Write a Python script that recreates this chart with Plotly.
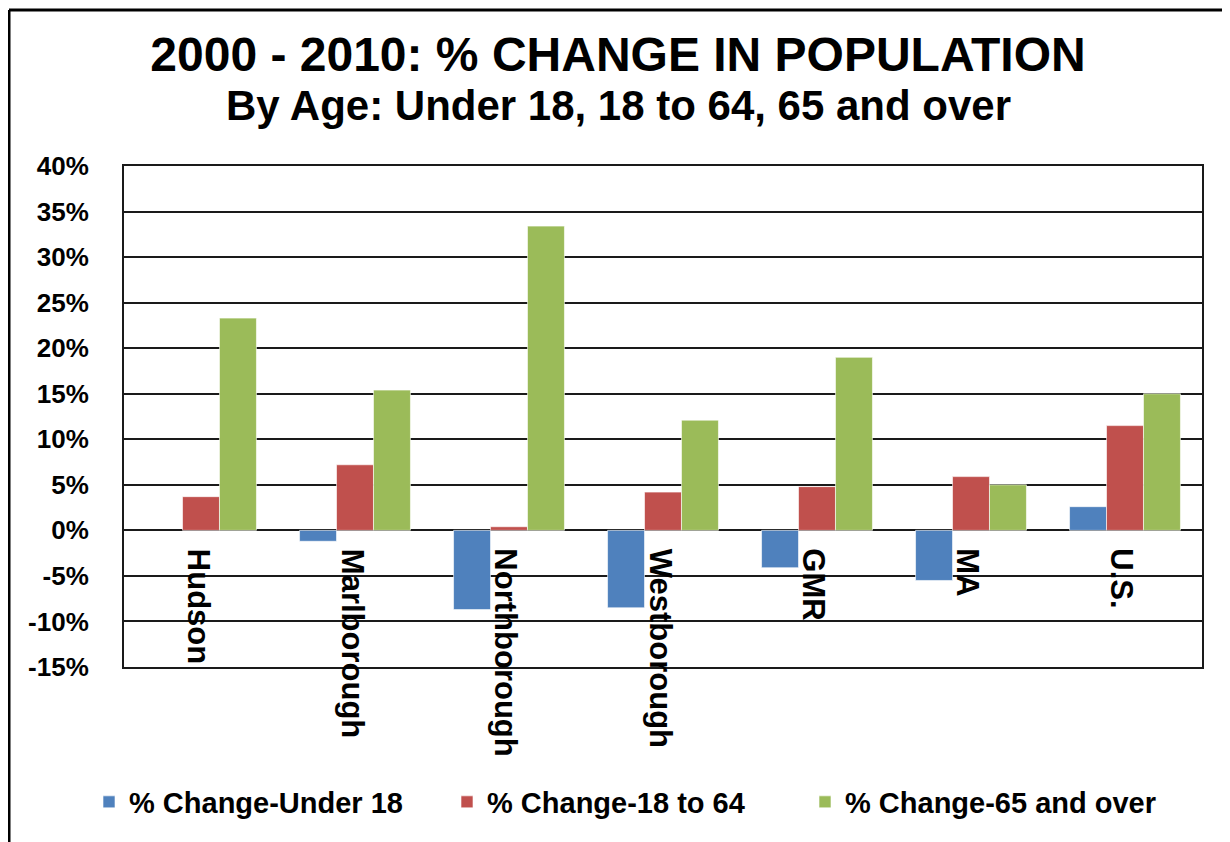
import plotly.graph_objects as go

categories = ["Hudson", "Marlborough", "Northborough", "Westborough", "GMR", "MA", "U.S."]
under18 = [None, -0.012, -0.087, -0.085, -0.041, -0.055, 0.026]
age18_64 = [0.037, 0.072, 0.004, 0.042, 0.048, 0.059, 0.115]
age65_over = [0.233, 0.154, 0.334, 0.121, 0.190, 0.050, 0.150]
series_names = ["% Change-Under 18", "% Change-18 to 64", "% Change-65 and over"]
colors = ["#4F81BD", "#C0504D", "#9BBB59"]
tick_vals = [-0.15, -0.10, -0.05, 0.0, 0.05, 0.10, 0.15, 0.20, 0.25, 0.30, 0.35, 0.40]
tick_text = ["-15%", "-10%", "-5%", "0%", "5%", "10%", "15%", "20%", "25%", "30%", "35%", "40%"]

FONT = "Arial, 'Liberation Sans', sans-serif"

fig = go.Figure()
for name, vals, col in zip(series_names, [under18, age18_64, age65_over], colors):
    fig.add_trace(go.Bar(
        x=categories, y=vals, name=name,
        marker=dict(color=col, line=dict(color="rgba(255,255,255,0.6)", width=1)),
    ))

OFF = 8  # page offset of the plot div
W, H = 1230, 842
L, R, T, B = 116, 36, 158, 183
pw, ph = W - L - R, H - T - B

def px(xp):
    return (xp - OFF - L) / pw

def py(yp):
    return (H - B - (yp - OFF)) / ph

annotations = []
for c in categories:
    annotations.append(dict(
        x=c, y=0, xref="x", yref="y", text=c, showarrow=False,
        textangle=90, xanchor="center", yanchor="top", yshift=-16, xshift=-3,
        font=dict(family=FONT, size=31, color="black", weight="bold"),
    ))
annotations.append(dict(
    x=px(618), y=py(106), xref="paper", yref="paper",
    text="By Age: Under 18, 18 to 64, 65 and over",
    showarrow=False, xanchor="center", yanchor="middle",
    font=dict(family=FONT, size=42, color="black", weight="bold"),
))

fig.update_layout(
    width=W, height=H,
    margin=dict(l=L, r=R, t=T, b=B),
    paper_bgcolor="white", plot_bgcolor="white",
    barmode="group", bargap=0.28, bargroupgap=0,
    title=dict(
        text="2000 - 2010: % CHANGE IN POPULATION",
        x=(618 - OFF) / W, xanchor="center", y=1 - (54 - OFF) / H, yanchor="middle",
        font=dict(family=FONT, size=48, color="black", weight="bold"),
    ),
    font=dict(family=FONT, color="black"),
    xaxis=dict(
        showticklabels=False, showgrid=False, ticks="",
        showline=True, linecolor="#1a1a1a", linewidth=2, mirror=True,
    ),
    yaxis=dict(
        range=[-0.15, 0.40], tickvals=tick_vals, ticktext=tick_text,
        tickfont=dict(family=FONT, size=26, color="black", weight="bold"),
        showgrid=True, gridcolor="#1a1a1a", gridwidth=1.5,
        zeroline=True, zerolinecolor="#1a1a1a", zerolinewidth=2,
        showline=True, linecolor="#1a1a1a", linewidth=2, mirror=True,
        ticks="", ticklabelstandoff=28,
    ),
    legend=dict(
        orientation="h", x=px(626), xanchor="center", y=py(802), yanchor="middle",
        font=dict(family=FONT, size=29, color="black", weight="bold"),
        bgcolor="rgba(0,0,0,0)", itemwidth=30, entrywidth=313,
    ),
    annotations=annotations,
    shapes=[
        dict(type="line", xref="paper", yref="paper",
             x0=px(OFF + 1), x1=px(OFF + 1), y0=py(900), y1=py(OFF + 2),
             line=dict(color="black", width=3)),
        dict(type="line", xref="paper", yref="paper",
             x0=px(OFF + 1), x1=px(1240), y0=py(OFF + 2), y1=py(OFF + 2),
             line=dict(color="black", width=3)),
    ],
)

fig.write_html("out.html")
